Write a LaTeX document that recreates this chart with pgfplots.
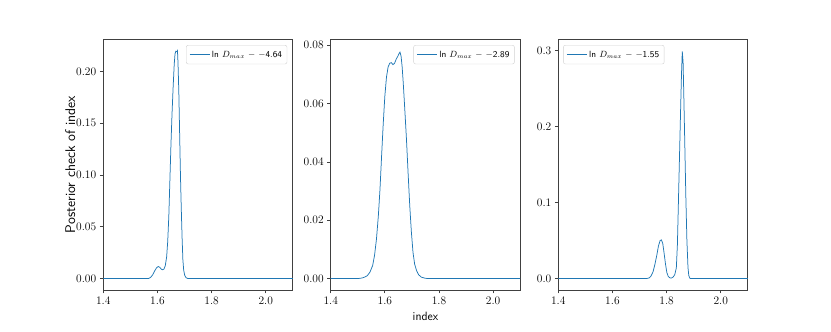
\documentclass[border=0pt]{standalone}
\usepackage{pgfplots}
\pgfplotsset{compat=1.18}
\definecolor{mplblue}{HTML}{1F77B4}
\pgfplotsset{
  panel/.style={
    scale only axis, width=189.5pt, height=250.7pt,
    xmin=1.4, xmax=2.1,
    xtick={1.4,1.6,1.8,2.0},
    xticklabels={1.4,1.6,1.8,2.0},
    tick align=outside, major tick length=3.5pt,
    xtick pos=bottom, ytick pos=left,
    axis line style={black!75, line width=0.7pt},
    tick style={black!75, line width=0.7pt},
    ticklabel style={font=\fontsize{11.5}{13}\selectfont},
    scaled y ticks=false,
    xlabel style={font=\fontsize{12}{14}\selectfont\sffamily},
    ylabel style={font=\fontsize{14}{16}\selectfont\sffamily},
    ylabel shift=-6pt,
    legend cell align=left,
    legend style={draw=black!18, rounded corners=2pt, fill=white,
      font=\fontsize{9}{10}\selectfont\sffamily, inner xsep=3pt, inner ysep=3.5pt},
    legend image code/.code={\draw[#1] (0pt,0pt) -- (20pt,0pt);},
    clip=true,
  },
  curve/.style={mplblue, line width=0.75pt},
}
\begin{document}
\begin{tikzpicture}
\path (0,0) rectangle (831pt,332pt);
% Panel 1
\begin{axis}[panel, at={(103.3pt,42pt)}, anchor=south west,
  ymin=-0.011, ymax=0.231,
  ytick={0,0.05,0.10,0.15,0.20},
  yticklabels={0.00,0.05,0.10,0.15,0.20},
  ylabel={Posterior check of index},
  legend style={at={(rel axis cs:0.9705,0.977)}, anchor=north east}]
\addplot[curve] coordinates {
(1.40,0) (1.560,0) (1.568,0.0002) (1.575,0.0012) (1.582,0.0035) (1.590,0.0075)
(1.597,0.0105) (1.603,0.0117) (1.609,0.0108) (1.614,0.0092) (1.619,0.0085)
(1.624,0.0092) (1.629,0.0125) (1.634,0.021) (1.638,0.036) (1.642,0.060)
(1.646,0.095) (1.650,0.130) (1.654,0.160) (1.658,0.185) (1.662,0.207)
(1.665,0.217) (1.668,0.2195) (1.672,0.219) (1.674,0.220) (1.676,0.208)
(1.679,0.180) (1.682,0.140) (1.685,0.100) (1.688,0.068) (1.691,0.040)
(1.694,0.018) (1.697,0.008) (1.701,0.003) (1.706,0.0008) (1.712,0.0001)
(1.720,0) (2.1,0)
};
\addlegendentry{ln $D_{max}$ $-$ $-$4.64}
\end{axis}
% Panel 2
\begin{axis}[panel, at={(330.7pt,42pt)}, anchor=south west,
  ymin=-0.0039, ymax=0.082,
  ytick={0,0.02,0.04,0.06,0.08},
  yticklabels={0.00,0.02,0.04,0.06,0.08},
  xlabel={index},
  legend style={at={(rel axis cs:0.9705,0.977)}, anchor=north east}]
\addplot[curve] coordinates {
(1.40,0) (1.50,0) (1.515,0.0002) (1.525,0.0005) (1.535,0.0010) (1.545,0.0022)
(1.555,0.0045) (1.562,0.0080) (1.569,0.0135) (1.576,0.0215) (1.582,0.0305)
(1.588,0.042) (1.594,0.053) (1.600,0.0625) (1.606,0.069) (1.612,0.0725)
(1.618,0.0738) (1.624,0.0740) (1.630,0.0733) (1.636,0.0738) (1.642,0.0752)
(1.648,0.0762) (1.653,0.0772) (1.656,0.0776) (1.660,0.0762) (1.664,0.0725)
(1.668,0.0670) (1.674,0.0575) (1.680,0.0475) (1.686,0.0360) (1.692,0.0250)
(1.698,0.0160) (1.704,0.0090) (1.710,0.0050) (1.717,0.0028) (1.725,0.0013)
(1.735,0.0005) (1.750,0.0001) (1.77,0) (2.1,0)
};
\addlegendentry{ln $D_{max}$ $-$ $-$2.89}
\end{axis}
% Panel 3
\begin{axis}[panel, at={(558.3pt,42pt)}, anchor=south west,
  ymin=-0.015, ymax=0.315,
  ytick={0,0.1,0.2,0.3},
  yticklabels={0.0,0.1,0.2,0.3},
  legend style={at={(rel axis cs:0.026,0.977)}, anchor=north west}]
\addplot[curve] coordinates {
(1.40,0) (1.725,0) (1.735,0.0008) (1.742,0.003) (1.750,0.009) (1.757,0.019)
(1.764,0.031) (1.770,0.043) (1.776,0.050) (1.781,0.051) (1.786,0.046)
(1.791,0.033) (1.796,0.019) (1.801,0.008) (1.806,0.003) (1.812,0.001)
(1.818,0.0008) (1.824,0.002) (1.830,0.005) (1.836,0.014) (1.840,0.045)
(1.844,0.105) (1.848,0.165) (1.852,0.225) (1.855,0.268) (1.858,0.299)
(1.861,0.285) (1.864,0.235) (1.867,0.182) (1.871,0.110) (1.875,0.051)
(1.879,0.015) (1.882,0.004) (1.886,0.0005) (1.89,0) (2.1,0)
};
\addlegendentry{ln $D_{max}$ $-$ $-$1.55}
\end{axis}
\end{tikzpicture}
\end{document}
